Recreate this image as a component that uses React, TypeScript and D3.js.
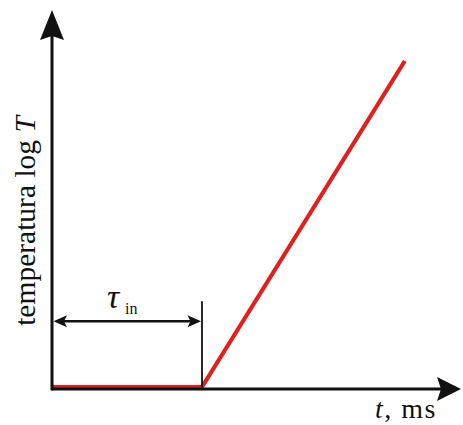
import React from "react";
import * as d3 from "d3";

// data (arbitrary units)
const timeValues = [0, 3.75, 8.82];
const logTValues = [0, 0, 8.67];
const tauIn = 3.75;
const tauArrowLevel = 1.75;
const tauMarkerTop = 2.28;

const W = 463;
const H = 425;

export default function App() {
  const x = d3.scaleLinear().domain([0, 10]).range([52, 452]);
  const y = d3.scaleLinear().domain([0, 10]).range([387, 11]);

  const pts: [number, number][] = timeValues.map((t, i) => [x(t), y(logTValues[i])]);
  const line = d3.line<[number, number]>().x((d) => d[0]).y((d) => d[1]);

  const x0 = x(0);
  const yAxisY = y(0) + 2;
  const xAxisEnd = 461;
  const yAxisTop = 10;
  const ya = y(tauArrowLevel);
  const xt = x(tauIn);

  const font = "'Liberation Serif', 'DejaVu Serif', serif";

  return (
    <svg
      width={W}
      height={H}
      style={{ position: "absolute", left: 0, top: 0, background: "#fff" }}
    >
      {/* red curve */}
      <path d={line(pts) || ""} fill="none" stroke="#e0201c" strokeWidth={4.2} strokeLinejoin="miter" />

      {/* axes */}
      <line x1={x0} y1={yAxisY} x2={xAxisEnd - 20} y2={yAxisY} stroke="#111" strokeWidth={3} />
      <line x1={x0} y1={yAxisY + 1.5} x2={x0} y2={yAxisTop + 25} stroke="#111" strokeWidth={3} />
      <path
        d={`M${xAxisEnd},${yAxisY} L${xAxisEnd - 24},${yAxisY - 12} L${xAxisEnd - 20},${yAxisY} L${xAxisEnd - 24},${yAxisY + 12} Z`}
        fill="#111"
      />
      <path
        d={`M${x0},${yAxisTop} L${x0 - 12},${yAxisTop + 30} L${x0},${yAxisTop + 26} L${x0 + 12},${yAxisTop + 30} Z`}
        fill="#111"
      />

      {/* tau marker */}
      <line x1={xt} y1={y(tauMarkerTop)} x2={xt} y2={y(0)} stroke="#111" strokeWidth={1.8} />
      <line x1={x0 + 8} y1={ya} x2={xt - 8} y2={ya} stroke="#111" strokeWidth={2.4} />
      <path
        d={`M${x0 + 1.5},${ya} L${x0 + 15},${ya - 6} L${x0 + 12},${ya} L${x0 + 15},${ya + 6} Z`}
        fill="#111"
      />
      <path
        d={`M${xt - 1},${ya} L${xt - 14.5},${ya - 6} L${xt - 11.5},${ya} L${xt - 14.5},${ya + 6} Z`}
        fill="#111"
      />
      <text x={107} y={308} fontFamily={font} fontSize={34} fontStyle="italic" fill="#111">
        τ
      </text>
      <text x={125} y={314} fontFamily={font} fontSize={16} fill="#111">
        in
      </text>

      {/* axis labels */}
      <text
        transform={`translate(35,221) rotate(-90)`}
        textAnchor="middle"
        fontFamily={font}
        fontSize={29.5}
        fill="#111"
      >
        temperatura log <tspan fontStyle="italic">T</tspan>
      </text>
      <text x={375} y={418} fontFamily={font} fontSize={28} fill="#111" letterSpacing={1.5}>
        <tspan fontStyle="italic">t</tspan>, ms
      </text>
    </svg>
  );
}
